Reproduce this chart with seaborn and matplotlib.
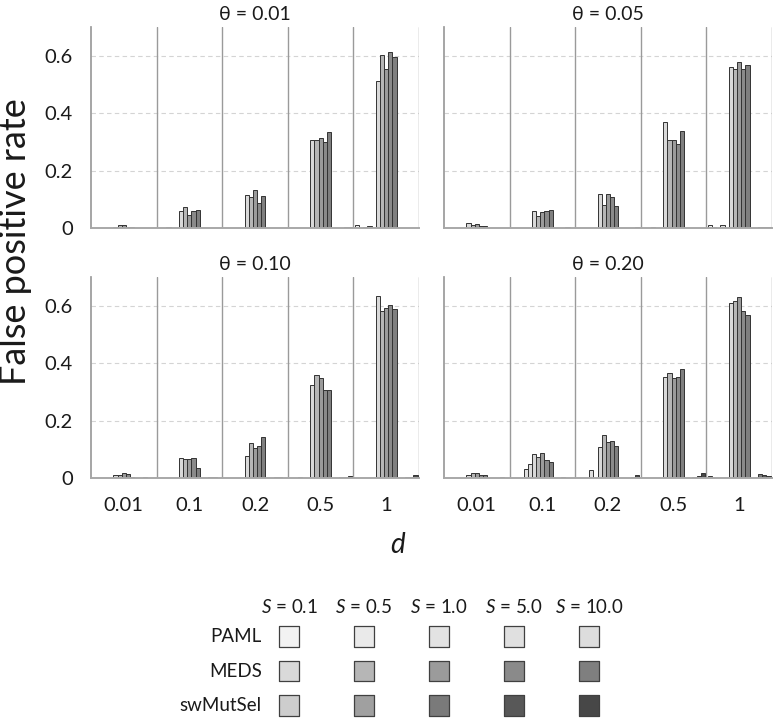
import matplotlib
matplotlib.use("Agg")
import matplotlib.pyplot as plt
import numpy as np
import pandas as pd
import seaborn as sns

# categories
THETAS = ["0.01", "0.05", "0.10", "0.20"]
D_LABELS = ["0.01", "0.1", "0.2", "0.5", "1"]
METHODS = ["PAML", "MEDS", "swMutSel"]
S_LABELS = ["0.1", "0.5", "1.0", "5.0", "10.0"]

# false positive rates: rows = d, columns = S
paml_001 = [[0, 0, 0, 0, 0], [0, 0, 0.005, 0, 0], [0, 0, 0, 0, 0], [0, 0, 0, 0, 0], [0.012, 0, 0.004, 0.006, 0]]
meds_001 = [[0.003, 0.012, 0.009, 0.005, 0.005], [0.059, 0.074, 0.044, 0.059, 0.064],
            [0.116, 0.107, 0.133, 0.088, 0.110], [0.306, 0.308, 0.312, 0.301, 0.333],
            [0.511, 0.603, 0.554, 0.613, 0.597]]
swm_001 = [[0, 0, 0, 0, 0], [0, 0, 0, 0, 0], [0, 0, 0, 0, 0], [0, 0, 0, 0.002, 0.002], [0, 0, 0, 0, 0]]

paml_005 = [[0, 0, 0, 0, 0], [0, 0, 0, 0, 0], [0, 0, 0, 0, 0], [0, 0, 0.003, 0, 0], [0.011, 0.005, 0, 0.011, 0]]
meds_005 = [[0.019, 0.012, 0.015, 0.008, 0.008], [0.060, 0.043, 0.054, 0.059, 0.064],
            [0.120, 0.081, 0.119, 0.109, 0.076], [0.368, 0.308, 0.307, 0.291, 0.337],
            [0.560, 0.552, 0.577, 0.554, 0.568]]
swm_005 = [[0, 0, 0, 0, 0], [0, 0, 0, 0.002, 0], [0, 0, 0, 0, 0.002], [0, 0, 0, 0, 0], [0, 0, 0.004, 0.002, 0.002]]

paml_010 = [[0, 0, 0, 0, 0], [0, 0, 0, 0, 0], [0, 0, 0, 0, 0], [0, 0, 0.002, 0, 0], [0, 0, 0, 0, 0]]
meds_010 = [[0.010, 0.012, 0.016, 0.015, 0.003], [0.070, 0.065, 0.065, 0.069, 0.035],
            [0.075, 0.122, 0.105, 0.113, 0.144], [0.323, 0.359, 0.350, 0.305, 0.305],
            [0.634, 0.581, 0.593, 0.603, 0.588]]
swm_010 = [[0, 0, 0.002, 0, 0], [0, 0, 0.004, 0.004, 0], [0, 0, 0.002, 0.002, 0],
           [0, 0, 0.002, 0.002, 0.008], [0, 0, 0.002, 0.004, 0.010]]

paml_020 = [[0, 0, 0, 0, 0], [0, 0, 0, 0.031, 0.048], [0, 0, 0, 0.028, 0], [0, 0, 0, 0, 0], [0.006, 0, 0, 0, 0]]
meds_020 = [[0.009, 0.017, 0.017, 0.009, 0.009], [0.083, 0.072, 0.087, 0.062, 0.055],
            [0.108, 0.151, 0.126, 0.128, 0.111], [0.352, 0.366, 0.348, 0.352, 0.380],
            [0.608, 0.616, 0.630, 0.581, 0.567]]
swm_020 = [[0, 0, 0, 0.003, 0], [0, 0, 0.003, 0, 0], [0, 0, 0, 0.004, 0.009],
           [0, 0, 0.002, 0.006, 0.017], [0, 0, 0.015, 0.009, 0.008]]

# gray levels per method, light -> dark with S
paml_colors = ["#f2f2f2", "#eaeaea", "#e3e3e3", "#e0e0e0", "#dddddd"]
meds_colors = ["#d9d9d9", "#b6b6b6", "#9b9b9b", "#8a8a8a", "#7f7f7f"]
swm_colors = ["#cdcdcd", "#a0a0a0", "#7a7a7a", "#585858", "#474747"]

sns.set_theme(style="white")
plt.rcParams["font.family"] = ["Lato", "DejaVu Sans"]
plt.rcParams["mathtext.fontset"] = "custom"
plt.rcParams["mathtext.rm"] = "Lato"
plt.rcParams["mathtext.it"] = "Lato:italic"

tables = {
    "0.01": (paml_001, meds_001, swm_001),
    "0.05": (paml_005, meds_005, swm_005),
    "0.10": (paml_010, meds_010, swm_010),
    "0.20": (paml_020, meds_020, swm_020),
}

rows = []
for theta, per_method in tables.items():
    for method, grid in zip(METHODS, per_method):
        for d, vals in zip(D_LABELS, grid):
            for s, v in zip(S_LABELS, vals):
                rows.append({"theta": theta, "d": d, "series": f"{method} {s}", "rate": v})
df = pd.DataFrame(rows)

series_order = [f"{m} {s}" for m in METHODS for s in S_LABELS]
palette = paml_colors + meds_colors + swm_colors

W, H = 774, 720
fig = plt.figure(figsize=(W / 100, H / 100), dpi=100)

boxes = [(91, 27), (444, 27), (91, 277), (444, 277)]
ink = "#1a1a1a"
line_gray = "#9a9a9a"

for i, (theta, (x0, y0)) in enumerate(zip(THETAS, boxes)):
    ax = fig.add_axes([x0 / W, 1 - (y0 + 201) / H, 328 / W, 201 / H])
    sub = df[df["theta"] == theta]
    sns.barplot(
        data=sub, x="d", y="rate", hue="series",
        order=D_LABELS, hue_order=series_order, palette=palette,
        width=0.96, gap=0, saturation=1, errorbar=None,
        edgecolor="#333333", linewidth=0.7, legend=False, ax=ax,
    )
    # zero-height bars are not drawn in the original
    for p in ax.patches:
        if p.get_height() == 0:
            p.set_visible(False)

    ax.set_xlim(-0.5, 4.5)
    ax.set_ylim(0, 0.7)
    ax.set_yticks([0, 0.2, 0.4, 0.6])
    ax.yaxis.set_major_formatter(plt.FuncFormatter(lambda v, _: "0" if v == 0 else f"{v:.1f}"))
    for y in [0.2, 0.4, 0.6]:
        ax.axhline(y, color="#d4d4d4", lw=0.8, ls=(0, (4, 3)), zorder=0)
    for x in np.arange(0.5, 5, 1):
        ax.axvline(x, color=line_gray, lw=1.0, zorder=0.5)

    sns.despine(ax=ax, top=True, right=True)
    ax.spines["left"].set_color(line_gray)
    ax.spines["bottom"].set_color("#a8a8a8")
    ax.spines["bottom"].set_linewidth(1.4)
    ax.tick_params(length=0, labelsize=14.5, colors=ink)
    ax.tick_params(axis="y", pad=13)
    ax.tick_params(axis="x", pad=14)
    ax.set_xlabel("")
    ax.set_ylabel("")
    if i < 2:
        ax.tick_params(labelbottom=False)
    if i % 2 == 1:
        ax.tick_params(labelleft=False)
    ax.set_title(f"θ = {theta}", fontsize=14, color=ink, pad=5)

fig.text(16 / W, 1 - 242 / H, "False positive rate", rotation=90, ha="center", va="center",
         fontsize=26, color=ink)
fig.text(398 / W, 1 - 545 / H, "d", style="italic", ha="center", va="center",
         fontsize=20, color=ink)

# legend as a small grid of squares: columns = S, rows = method
leg = fig.add_axes([251.5 / W, 0, 375 / W, 135 / H])
leg.set_xlim(-0.5, 4.5)
leg.set_ylim(2.42, -1.5)
leg.axis("off")
for r, (method, cols) in enumerate(zip(METHODS, [paml_colors, meds_colors, swm_colors])):
    leg.scatter(range(len(S_LABELS)), [r] * len(S_LABELS), s=220, marker="s",
                c=cols, edgecolors="#404040", linewidths=0.9)
    leg.text(-0.36, r, method, ha="right", va="center", fontsize=13.5, color=ink)
for c, s in enumerate(S_LABELS):
    leg.text(c, -0.87, f"$S$ = {s}", ha="center", va="center", fontsize=13.5, color=ink)

fig.savefig("out.png", dpi=100)
